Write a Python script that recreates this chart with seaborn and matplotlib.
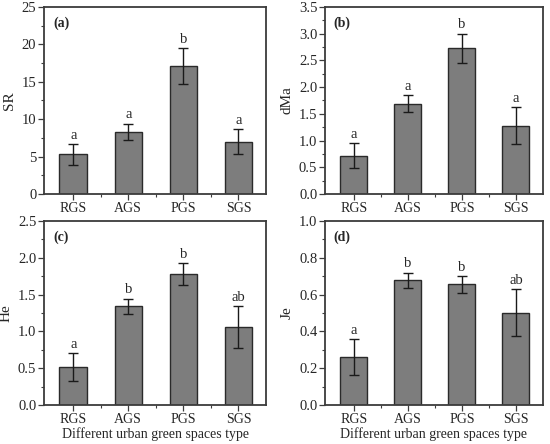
import matplotlib
matplotlib.use("Agg")
import matplotlib.pyplot as plt
import matplotlib.ticker as ticker
import numpy as np
import pandas as pd
import seaborn as sns

# categories
types = ["RGS", "AGS", "PGS", "SGS"]

# (a) SR
sr_mean = [5.3, 8.3, 17.1, 7.0]
sr_err = [1.4, 1.1, 2.45, 1.7]
sr_sig = ["a", "a", "b", "a"]

# (b) dMa
dma_mean = [0.72, 1.69, 2.73, 1.28]
dma_err = [0.23, 0.16, 0.27, 0.34]
dma_sig = ["a", "a", "b", "a"]

# (c) He
he_mean = [0.51, 1.34, 1.78, 1.06]
he_err = [0.19, 0.105, 0.145, 0.28]
he_sig = ["a", "b", "b", "ab"]

# (d) Je
je_mean = [0.26, 0.678, 0.655, 0.502]
je_err = [0.096, 0.042, 0.046, 0.128]
je_sig = ["a", "b", "b", "ab"]

sns.set_theme(style="white")
plt.rcParams['font.family'] = ['Liberation Serif', 'DejaVu Serif']

fig = plt.figure(figsize=(5.5, 4.44), dpi=100)

# left, bottom, width, height
boxes = [
    [44 / 550, 1 - 194 / 444, 222 / 550, 187 / 444],
    [325 / 550, 1 - 194 / 444, 218 / 550, 187 / 444],
    [44 / 550, 1 - 405 / 444, 222 / 550, 184 / 444],
    [325 / 550, 1 - 405 / 444, 218 / 550, 184 / 444],
]

panels = [
    ("(a)", "SR", sr_mean, sr_err, sr_sig, 25, 5, 2.5, "%d"),
    ("(b)", "dMa", dma_mean, dma_err, dma_sig, 3.5, 0.5, 0.25, "%.1f"),
    ("(c)", "He", he_mean, he_err, he_sig, 2.5, 0.5, 0.25, "%.1f"),
    ("(d)", "Je", je_mean, je_err, je_sig, 1.0, 0.2, 0.1, "%.1f"),
]

frame = "#3c3c3c"

for i, (tag, ylab, mean, err, sig, ymax, major, minor, fmt) in enumerate(panels):
    ax = fig.add_axes(boxes[i])
    df = pd.DataFrame({"type": types, "value": mean})
    sns.barplot(data=df, x="type", y="value", color="#7d7d7d", saturation=1,
                width=0.5, edgecolor="#2a2a2a", linewidth=1.0, errorbar=None, ax=ax)
    xs = np.arange(len(types))
    ax.errorbar(xs, mean, yerr=err, fmt="none", ecolor="#1a1a1a",
                elinewidth=1.0, capsize=3.5, capthick=1.0)
    for x, m, e, s in zip(xs, mean, err, sig):
        ax.text(x, m + e + ymax * 0.012, s, ha="center", va="bottom", fontsize=10.5)

    ax.set_xlim(-0.53, 3.5)
    ax.set_ylim(0, ymax)
    ax.yaxis.set_major_locator(ticker.MultipleLocator(major))
    ax.yaxis.set_minor_locator(ticker.MultipleLocator(minor))
    ax.yaxis.set_major_formatter(ticker.FormatStrFormatter(fmt))
    ax.xaxis.set_minor_locator(ticker.FixedLocator([0.5, 1.5, 2.5]))

    ax.tick_params(axis="both", which="major", direction="out", length=4, width=0.9,
                   color=frame, pad=2, left=True, bottom=True)
    ax.tick_params(axis="x", which="major", labelsize=10, pad=1.5)
    ax.tick_params(axis="y", which="major", labelsize=10.5, pad=1.5)
    ax.tick_params(axis="both", which="minor", direction="out", length=2, width=0.8,
                   color=frame, left=True, bottom=True)
    for sp in ax.spines.values():
        sp.set_color(frame)
        sp.set_linewidth(1.3)

    ax.set_ylabel(ylab, fontsize=11, labelpad=4)
    if i >= 2:
        ax.set_xlabel("Different urban green spaces type", fontsize=10, labelpad=1)
    else:
        ax.set_xlabel("")
    ax.text(0.04, 0.95, tag, transform=ax.transAxes, fontsize=10,
            fontweight="bold", ha="left", va="top")

fig.savefig("out.png", dpi=100)
